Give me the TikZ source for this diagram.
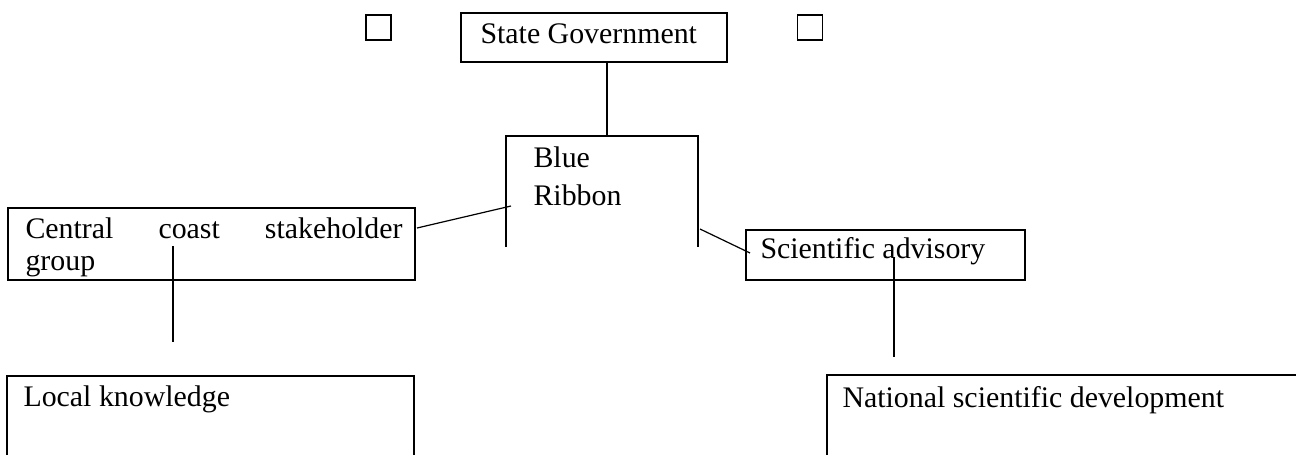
\documentclass[tikz,border=0pt]{standalone}
\usepackage{fontspec}
\setmainfont{Liberation Serif}
\usetikzlibrary{fit}
\begin{document}
\begin{tikzpicture}[x=0.375pt,y=-0.375pt,
  box/.style={draw,line width=0.6pt,inner sep=0pt},
  conn/.style={line width=0.45pt},
  sq/.style={draw,line width=0.45pt,inner sep=0pt,minimum size=9.4pt},
  txt/.style={inner sep=0pt,anchor=base west,font=\fontsize{11.2}{13.9}\selectfont}]
\useasboundingbox (0,0) rectangle (1296,455);

% boxes
\node[box,fit={(461,13) (727,62)}] (gov) {};
\node[box,fit={(8,208) (415,280)}] (cen) {};
\node[box,fit={(746,230) (1025,280)}] (sci) {};
\node[sq] (sqL) at (378.5,27.5) {};
\node[sq] (sqR) at (810,27.5) {};

% open boxes
\coordinate (brT) at (607,136);
\draw[box] (506,247) |- (698,136) -- (698,247);
\draw[box] (7,455) |- (414,376) -- (414,455);
\draw[box] (827,455) |- (1296,375);

% texts
\node[txt] (govt) at (480,43) {State Government};
\node[txt,align=left] (brt) at (533,205) {Blue\\Ribbon};
\node[txt,text width=141.4pt,font=\fontsize{11.2}{12}\selectfont] (cent) at (25,238) {Central\hfill coast\hfill stakeholder\\group};
\node[txt] (scit) at (760,258) {Scientific advisory};
\node[txt] (loct) at (23,406) {Local knowledge};
\node[txt] (natt) at (842,407) {National scientific development};

% connectors
\coordinate (c1) at (417,228);
\coordinate (c2) at (511,206);
\coordinate (s1) at (700,229);
\coordinate (s2) at (750,253);
\coordinate (l1) at (173,246);
\coordinate (l2) at (173,342);
\coordinate (n1) at (894,257);
\coordinate (n2) at (894,357);
\draw[conn] (gov.south -| brT) -- (brT);
\draw[conn] (c1) -- (c2);
\draw[conn] (s1) -- (s2);
\draw[conn] (l1) -- (l2);
\draw[conn] (n1) -- (n2);
\end{tikzpicture}
\end{document}
